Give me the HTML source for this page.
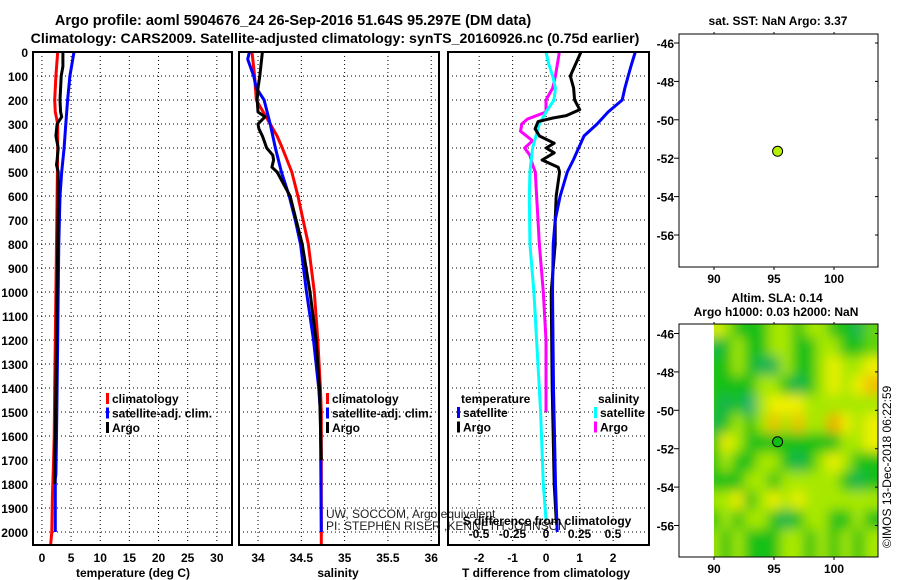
<!DOCTYPE html>
<html><head><meta charset="utf-8"><style>
html,body{margin:0;padding:0;background:#fff;}
svg{display:block;font-family:"Liberation Sans",sans-serif;}
.b{font-weight:bold;}
</style></head><body>
<svg id="c" width="900" height="580" viewBox="0 0 900 580"></svg>
<script>
// ---------- data ----------
const depthTicks=[0,100,200,300,400,500,600,700,800,900,1000,1100,1200,1300,1400,1500,1600,1700,1800,1900,2000];
const tempTicks=[0,5,10,15,20,25,30];
const salTicks=[34,34.5,35,35.5,36];
const tdiffTicks=[-2,-1,0,1,2];
const sdiffTicks=[-0.5,-0.25,0,0.25,0.5];
const latTicks=[-46,-48,-50,-52,-54,-56];
const lonTicks=[90,95,100];
// temperature profiles [depth, value]
const tempClimDepth=[0,100,200,250,300,400,600,800,1000,1200,1400,1600,1700,1850,2000,2050];
const tempClimVal=[2.7,2.4,2.2,2.3,2.7,2.7,2.6,2.5,2.4,2.3,2.2,2.1,2.0,1.8,1.7,1.5];
const tempSatDepth=[0,100,200,300,400,500,600,800,1000,1200,1400,1600,1760,1780,2000];
const tempSatVal=[5.5,4.8,4.4,4.1,3.8,3.4,3.1,2.9,2.8,2.7,2.6,2.5,2.4,2.3,2.3];
const tempArgoDepth=[0,60,100,200,250,270,300,350,400,450,470,500,600,800,1000,1200,1400,1600,1700,1800];
const tempArgoVal=[3.6,3.6,3.3,3.1,3.2,3.4,2.6,2.4,2.8,2.6,2.5,2.8,2.8,2.7,2.6,2.5,2.4,2.3,2.2,2.2];
// salinity profiles
const salClimDepth=[0,100,200,300,350,400,500,600,700,800,1000,1200,1400,1500,2050];
const salClimVal=[33.93,33.96,33.98,34.14,34.22,34.28,34.39,34.46,34.52,34.58,34.65,34.69,34.72,34.73,34.73];
const salSatDepth=[0,30,100,150,200,300,400,500,600,700,800,1000,1200,1400,1500,2000];
const salSatVal=[33.9,33.88,33.95,33.98,34.07,34.14,34.2,34.27,34.36,34.43,34.49,34.56,34.64,34.7,34.72,34.73];
const salArgoDepth=[0,100,150,200,250,270,300,320,350,380,400,430,450,480,500,600,700,800,1000,1200,1400,1700];
const salArgoVal=[34.05,34.02,34.0,33.99,34.0,34.08,34.0,34.01,34.05,34.08,34.1,34.17,34.18,34.16,34.22,34.37,34.44,34.51,34.6,34.67,34.71,34.73];
// differences
const tSatDiffDepth=[0,50,100,150,200,250,300,350,450,500,600,700,800,1000,1400,1800,2000];
const tSatDiffVal=[2.66,2.55,2.45,2.35,2.27,1.85,1.52,1.13,0.81,0.63,0.42,0.27,0.21,0.19,0.22,0.28,0.33];
const tArgoDiffDepth=[0,100,150,200,240,265,275,290,320,350,380,400,420,450,480,500,600,700,800,1000,1400,1800,1950];
const tArgoDiffVal=[1.04,0.72,0.82,0.85,1.0,0.6,0.2,-0.24,-0.33,-0.2,0.24,0.0,0.24,-0.12,0.36,0.4,0.3,0.27,0.27,0.15,0.18,0.24,0.3];
const sSatDiffDepth=[0,50,100,150,200,250,300,400,500,600,800,1000,1200,1500,1800,1950];
const sSatDiffVal=[0.0,0.02,0.05,0.07,0.06,0.0,-0.05,-0.1,-0.12,-0.125,-0.12,-0.09,-0.07,-0.04,-0.02,0.0];
const sArgoDiffDepth=[0,100,150,200,250,280,300,330,370,400,430,470,500,600,700,800,1000,1200,1500];
const sArgoDiffVal=[0.1,0.07,0.05,0.0,0.0,-0.14,-0.18,-0.19,-0.1,-0.16,-0.12,-0.1,-0.08,-0.07,-0.06,-0.05,-0.02,0.0,0.0];
// maps
const argoLon=95.3, argoLat=-51.64;
const slaLonStart=90, slaLatStart=-45.5;
const slaGrid=[
[3,2,1,1,1,2,2,1,2,2,1,1,0.5,1.5],
[0.5,1,2,1,1,2,2,1,1,2,2,1,1,1.5],
[1,1,2,1,0.5,0.5,2,1,1,2,3,2,2,3],
[1,1,1,1,2,2,1,0.5,1,2,3,2,3,3.5],
[1,0.5,1,0.2,2,3,3,3,2,2,2,2,2,2],
[0.5,1,2,1,2,3.5,2,3.5,2,2,3.8,3,2,3],
[1,3,2,1,1,1,1,1,1,1,1,2,2,3],
[1,2,1,1,2,2,1,0.5,1,2,3,2,1,1],
[1,1,1,2,2,1,2,2,2,2,2,1,0.5,1],
[2,2,3,1,2,3,2,3,2,2,2,2,2,2],
[1,2,1,2,2,1,0.5,1,2,2,1,1,2,1],
[2,1,2,1,1,1,2,2,1,2,1,2,1,2],
[2,1,2,1,1,1,2,2,1,2,1,2,1,2]];

// ---------- helpers ----------
const NS='http://www.w3.org/2000/svg';
const svg=document.getElementById('c');
function mk(tag,attrs,parent){const e=document.createElementNS(NS,tag);for(const k in attrs)e.setAttribute(k,attrs[k]);(parent||svg).appendChild(e);return e;}
function txt(x,y,s,attrs,parent){const e=mk('text',Object.assign({x:x,y:y},attrs||{}),parent);e.textContent=s;return e;}

const PT=52, PB=545;
const yD=d=>PT+d*0.24;
const panels=[
 {name:'temperature',x0:33,x1:232,lo:-1.53,hi:32.6},
 {name:'salinity',x0:239,x1:439,lo:33.78,hi:36.09},
 {name:'difference',x0:448,x1:649,lo:-2.93,hi:3.07}
];
const sx=(p,v)=>p.x0+(v-p.lo)/(p.hi-p.lo)*(p.x1-p.x0);
const sxS=v=>546+134*v;

// titles
let t=txt(293,25,'Argo profile: aoml 5904676_24 26-Sep-2016 51.64S 95.297E (DM data)',{'text-anchor':'middle','font-size':'14.5','class':'b'});


t=txt(335,43,'Climatology: CARS2009. Satellite-adjusted climatology: synTS_20160926.nc (0.75d earlier)',{'text-anchor':'middle','font-size':'14.2','class':'b'});



// depth labels
depthTicks.forEach(d=>{const e=txt(28,yD(d)+5,String(d),{'text-anchor':'end','font-size':'12','class':'b'});

});

function grid(p,ticks,g){
 ticks.forEach(v=>mk('line',{x1:sx(p,v),x2:sx(p,v),y1:PT,y2:PB,stroke:'#000','stroke-width':1,'stroke-dasharray':'1,3'},g));
 depthTicks.forEach(d=>mk('line',{x1:p.x0,x2:p.x1,y1:yD(d),y2:yD(d),stroke:'#000','stroke-width':1,'stroke-dasharray':'1,3'},g));
}
function line(depths,vals,fx,color,name,g){
 const pts=depths.map((d,i)=>fx(vals[i]).toFixed(1)+','+yD(d).toFixed(1)).join(' ');
 const e=mk('polyline',{points:pts,fill:'none',stroke:color,'stroke-width':3,'stroke-linejoin':'round'},g);
 
 
}
function legend(x,y,items,g,title){
 if(title){txt(x,y,title,{'font-size':'12','class':'b'},g);}
 items.forEach((it,i)=>{const yy=y+(title?14:0)+i*14.5;
  mk('rect',{x:x-4,y:yy-10,width:3,height:11,fill:it[1]},g);
  const e=txt(x+2,yy,it[0],{'font-size':'12','class':'b'},g);
  
  });
}

// panel 1
let g=mk('g',{});
let p=panels[0];
grid(p,tempTicks,g);
line(tempClimDepth,tempClimVal,v=>sx(p,v),'#f00','temp-climatology-line',g);
line(tempSatDepth,tempSatVal,v=>sx(p,v),'#00f','temp-satellite-line',g);
line(tempArgoDepth,tempArgoVal,v=>sx(p,v),'#000','temp-argo-line',g);
mk('rect',{x:p.x0,y:PT,width:p.x1-p.x0,height:PB-PT,fill:'none',stroke:'#000','stroke-width':2},g);
tempTicks.forEach(v=>txt(sx(p,v),562,String(v),{'text-anchor':'middle','font-size':'12','class':'b'},g));
txt(133,577,'temperature (deg C)',{'text-anchor':'middle','font-size':'12','class':'b'},g);
legend(110,403,[['climatology','#f00'],['satellite-adj. clim.','#00f'],['Argo','#000']],g);

// panel 2
g=mk('g',{});
p=panels[1];
grid(p,salTicks,g);
line(salClimDepth,salClimVal,v=>sx(p,v),'#f00','sal-climatology-line',g);
line(salSatDepth,salSatVal,v=>sx(p,v),'#00f','sal-satellite-line',g);
line(salArgoDepth,salArgoVal,v=>sx(p,v),'#000','sal-argo-line',g);
mk('rect',{x:p.x0,y:PT,width:p.x1-p.x0,height:PB-PT,fill:'none',stroke:'#000','stroke-width':2},g);
salTicks.forEach(v=>txt(sx(p,v),562,String(v),{'text-anchor':'middle','font-size':'12','class':'b'},g));
txt(338,577,'salinity',{'text-anchor':'middle','font-size':'12','class':'b'},g);
legend(330,403,[['climatology','#f00'],['satellite-adj. clim.','#00f'],['Argo','#000']],g);
t=txt(326,518,'UW, SOCCOM, Argo equivalent',{'font-size':'12','fill':'#222'});

t=txt(326,530,'PI: STEPHEN RISER ,KENNETH JOHNSON',{'font-size':'12','fill':'#222'});


// panel 3
g=mk('g',{});
p=panels[2];
grid(p,tdiffTicks,g);
line(sArgoDiffDepth,sArgoDiffVal,sxS,'#f0f','sdiff-argo-line',g);
line(sSatDiffDepth,sSatDiffVal,sxS,'#0ff','sdiff-satellite-line',g);
line(tArgoDiffDepth,tArgoDiffVal,v=>sx(p,v),'#000','tdiff-argo-line',g);
line(tSatDiffDepth,tSatDiffVal,v=>sx(p,v),'#00f','tdiff-satellite-line',g);
mk('rect',{x:p.x0,y:PT,width:p.x1-p.x0,height:PB-PT,fill:'none',stroke:'#000','stroke-width':2},g);
tdiffTicks.forEach(v=>txt(sx(p,v),562,String(v),{'text-anchor':'middle','font-size':'12','class':'b'},g));
txt(546,577,'T difference from climatology',{'text-anchor':'middle','font-size':'12','class':'b'},g);
txt(547,525,'S difference from climatology',{'text-anchor':'middle','font-size':'12','class':'b'},g);
sdiffTicks.forEach(v=>txt(sxS(v),538,String(v),{'text-anchor':'middle','font-size':'12','class':'b'},g));
legend(461,403,[['satellite','#00f'],['Argo','#000']],g,'temperature');
mk('rect',{x:597,y:393,width:46,height:40,fill:'#fff'},g);
legend(598,403,[['satellite','#0ff'],['Argo','#f0f']],g,'salinity');

// maps
const MX0=679,MX1=878;
const mx=lon=>714+(lon-90)*12;
function mapAxes(g,y0,y1,ly){
 mk('rect',{x:MX0,y:y0,width:MX1-MX0,height:y1-y0,fill:'none',stroke:'#000','stroke-width':1},g);
 latTicks.forEach(l=>{const y=ly(l);mk('line',{x1:MX0-5,x2:MX0,y1:y,y2:y,stroke:'#000'},g);
  mk('line',{x1:MX1,x2:MX1-3,y1:y,y2:y,stroke:'#000'},g);
  txt(MX0-5,y+5,String(l),{'text-anchor':'end','font-size':'12','class':'b'},g);});
 lonTicks.forEach(l=>{const x=mx(l);mk('line',{x1:x,x2:x,y1:y1,y2:y1+3,stroke:'#000'},g);
  mk('line',{x1:x,x2:x,y1:y0,y2:y0-2,stroke:'#000'},g);
  txt(x,y1+16,String(l),{'text-anchor':'middle','font-size':'12','class':'b'},g);});
}
// top map
g=mk('g',{});
const ly1=l=>43+(-46-l)*19.2;
mapAxes(g,34,267,ly1);
txt(778,25,'sat. SST: NaN Argo: 3.37',{'text-anchor':'middle','font-size':'12','class':'b'},g);
let c=mk('circle',{cx:mx(argoLon),cy:ly1(argoLat),r:5,fill:'#b4f000',stroke:'#000','stroke-width':1},g);


// bottom map
g=mk('g',{});
const ly2=l=>333.5+(-46-l)*19.2;
txt(777,302,'Altim. SLA: 0.14',{'text-anchor':'middle','font-size':'12','class':'b'},g);
txt(776,316,'Argo h1000: 0.03 h2000: NaN',{'text-anchor':'middle','font-size':'12','class':'b'},g);
const defs=mk('defs',{});
const clip=mk('clipPath',{id:'hc'},defs);mk('rect',{x:714,y:324,width:MX1-714,height:233},clip);
const flt=mk('filter',{id:'bl',x:'-5%',y:'-5%',width:'110%',height:'110%'},defs);mk('feGaussianBlur',{stdDeviation:'6'},flt);
const cols=['#10a890','#18c018','#a8e800','#f0f000','#f09000'];
function col(v){const i=Math.min(3,Math.floor(v)),f=v-i;const a=cols[i],b=cols[i+1];
 const h=s=>[1,3,5].map(k=>parseInt(s.substr(k,2),16));const A=h(a),B=h(b);
 return 'rgb('+A.map((x,k)=>Math.round(x+(B[k]-x)*f)).join(',')+')';}
const hg=mk('g',{'clip-path':'url(#hc)'},g);
mk('rect',{x:714,y:324,width:MX1-714,height:233,fill:col(1.5)},hg);
const hb=mk('g',{filter:'url(#bl)'},hg);
slaGrid.forEach((row,r)=>row.forEach((v,ci)=>{
 const x=mx(slaLonStart+ci)-6, y=ly2(slaLatStart-r)-6;
 const e=mk('rect',{x:x,y:y,width:24,height:31,fill:col(v)},hb);
 
 
}));
mapAxes(g,324,557,ly2);
c=mk('circle',{cx:mx(argoLon),cy:ly2(argoLat),r:5,fill:'#10c010',stroke:'#000','stroke-width':1},g);

t=txt(0,0,'©IMOS 13-Dec-2018 06:22:59',{'font-size':'12','transform':'translate(891,548) rotate(-90)'});

</script>
</body></html>
